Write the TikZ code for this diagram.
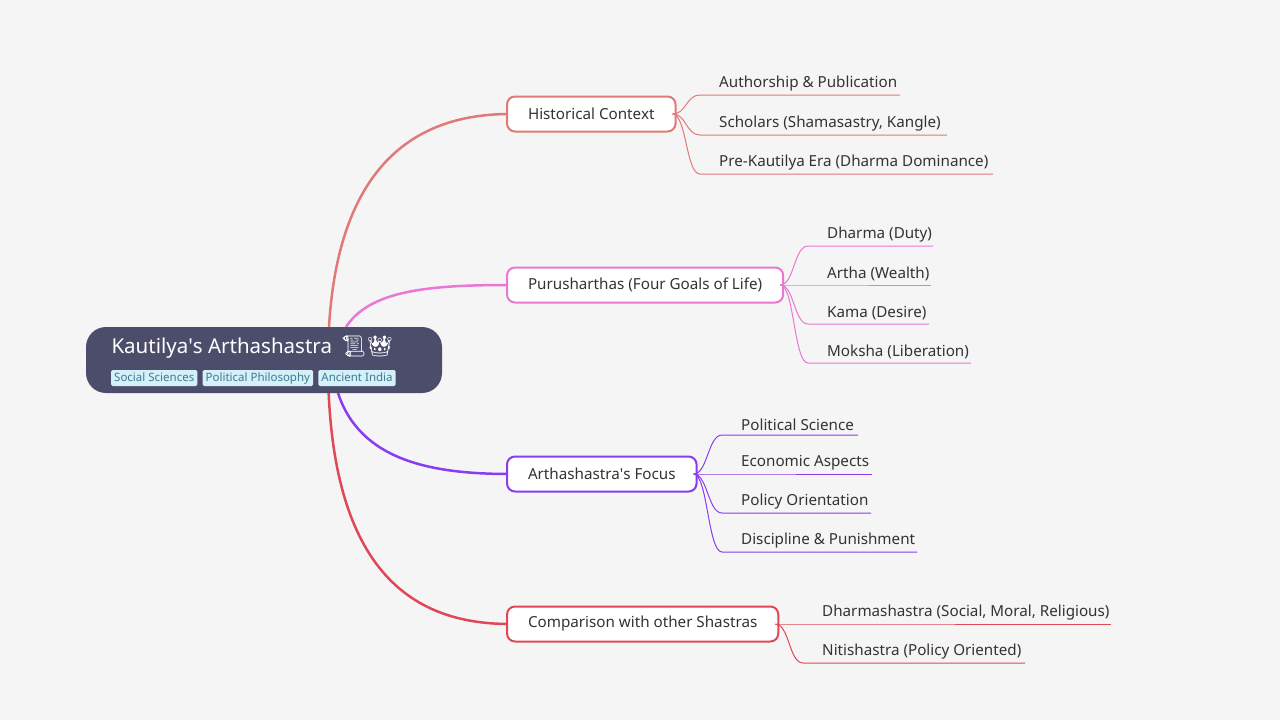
\documentclass[tikz,border=0pt]{standalone}
\usepackage{fontspec}
\usetikzlibrary{positioning}
\setmainfont{Noto Sans}
\newfontfamily\emojifont{Noto Emoji}
\definecolor{bgc}{HTML}{F5F5F5}
\definecolor{rootc}{HTML}{4B4D6B}
\definecolor{tagc}{HTML}{D4F0F8}
\definecolor{tagt}{HTML}{3F7A92}
\definecolor{histc}{HTML}{E07A78}
\definecolor{purc}{HTML}{E878D4}
\definecolor{focc}{HTML}{8A3CF0}
\definecolor{cmpc}{HTML}{E04858}
\definecolor{txtc}{HTML}{333333}
\begin{document}
\begin{tikzpicture}[x=1pt,y=-1pt,font=\fontsize{15.2}{18}\selectfont,
	branch/.style={draw=#1,line width=2pt,fill=white,rounded corners=8pt,minimum height=35pt,inner xsep=21pt,anchor=west,text=txtc},
	tag/.style={fill=tagc,text=tagt,rounded corners=1.5pt,inner xsep=3pt,inner ysep=2pt,text height=9pt,text depth=3pt,font=\fontsize{11.5}{13}\selectfont},
	leaf/.style={anchor=south west,text=txtc,inner sep=3pt}]
	\fill[bgc] (0,0) rectangle (1280,720);
	% branches
	\coordinate (r1) at (328,362);
	\coordinate (r2) at (346,327);
	\coordinate (r3) at (338,393);
	\draw[histc,line width=2.5pt] (r1) .. controls (328,160) and (420,114) .. (510,114);
	\draw[purc,line width=2.5pt] (r2) .. controls (370,290) and (430,285) .. (510,285);
	\draw[focc,line width=2.5pt] (r3) .. controls (360,460) and (430,474) .. (510,474);
	\draw[cmpc,line width=2.5pt] (r1) .. controls (328,580) and (420,624) .. (510,624);
	% root
	\path[rounded corners=20pt,fill=rootc] (86,327) rectangle (442,393);
	\node[anchor=west,text=white,font=\fontsize{20.5}{24}\selectfont] (root) at (108,347) {Kautilya\textquotesingle s Arthashastra\, {\emojifont📜👑}};
	\node[tag,anchor=west] (t1) at (111,378) {Social Sciences};
	\node[tag,right=5pt of t1] (t2) {Political Philosophy};
	\node[tag,right=5pt of t2] (t3) {Ancient India};
	\node[branch=histc] (hist) at (506,114) {Historical Context};
	\node[branch=purc] (pur) at (506,285) {Purusharthas (Four Goals of Life)};
	\node[branch=focc] (foc) at (506,474) {Arthashastra\textquotesingle s Focus};
	\node[branch=cmpc] (cmp) at (506,624) {Comparison with other Shastras};
	% leaves
	\foreach \src/\col/\x/\lst in {
		hist/histc/700/{95/900/Authorship \& Publication,135/947/{Scholars (Shamasastry, Kangle)},174/993/Pre-Kautilya Era (Dharma Dominance)},
		pur/purc/808/{246/933/Dharma (Duty),285/931/Artha (Wealth),324/929/Kama (Desire),363/971/Moksha (Liberation)},
		foc/focc/722/{435/858/Political Science,474/872/Economic Aspects,513/871/Policy Orientation,552/917/Discipline \& Punishment},
		cmp/cmpc/803/{624/1111/{Dharmashastra (Social, Moral, Religious)},663/1025/Nitishastra (Policy Oriented)}}{
		\foreach \y/\e/\t in \lst{
			\draw[\col,line width=1pt] ([xshift=-4pt]\src.east) .. controls +(14,0) and (\x-14,\y) .. (\x,\y) -- (\e,\y);
			\node[leaf] at (\x+16,\y-1) {\t};
		}
	}
\end{tikzpicture}
\end{document}
